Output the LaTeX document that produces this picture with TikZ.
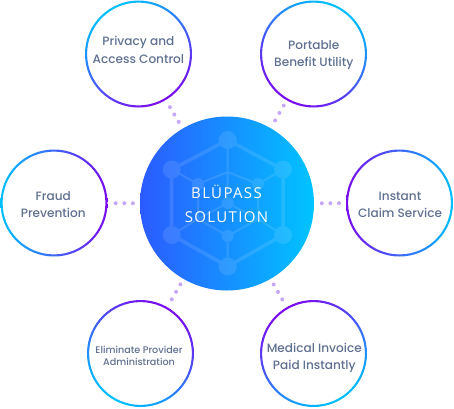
\documentclass[tikz,border=0pt]{standalone}
\usepackage{fontspec}
\usetikzlibrary{calc}
\newfontfamily\labelfont{Poppins Medium}
\newfontfamily\hubfont[LetterSpace=9]{Open Sans}
\definecolor{ringcyan}{HTML}{00C0FF}
\definecolor{ringpurple}{HTML}{7A0CEE}
\definecolor{hubleft}{HTML}{2C5AFF}
\definecolor{hubright}{HTML}{00C4FF}
\definecolor{dotcol}{HTML}{C6A8F6}
\definecolor{txtcol}{HTML}{5F7090}
\tikzset{
  ringnode/.style={circle,minimum size=107pt,inner sep=0pt,outer sep=0pt},
  lab/.style={font=\labelfont\fontsize{12.1}{17.3}\selectfont,text=txtcol,align=center,inner sep=0pt},
  smalllab/.style={font=\labelfont\fontsize{9.6}{12}\selectfont,text=txtcol,align=center,inner sep=0pt},
  hublab/.style={font=\hubfont\fontsize{15}{24}\selectfont,text=white,align=center,inner sep=0pt},
  dotlink/.style={draw=dotcol,line width=4pt,line cap=round,dash pattern=on 0pt off 8.6pt},
}
\newcommand{\gradring}[2]{%
  \shade[even odd rule,top color=ringcyan,bottom color=ringpurple,shading angle=#2]
    (#1) circle (53.5pt) (#1) circle (51.4pt);}
\newcommand{\dotsbetween}[3]{%
  \draw[dotlink] ($(#1)!#2pt!(hub)$) -- ($(#1)!#3pt!(hub)$);}
\begin{document}
\begin{tikzpicture}[x=1pt,y=-1pt]
\useasboundingbox (0,0) rectangle (454,408);
\node[ringnode] (priv) at (138.5,54) {};
\node[ringnode] (port) at (313.5,54) {};
\node[ringnode] (inst) at (399.5,203) {};
\node[ringnode] (frau) at (54,203) {};
\node[ringnode] (elim) at (140.5,353.5) {};
\node[ringnode] (medi) at (313.5,353.5) {};
\node[circle,minimum size=174pt,inner sep=0pt,outer sep=0pt] (hub) at (227,203.5) {};
% rings: cyan side given by the shading angle
\gradring{priv}{30}
\gradring{port}{-30}
\gradring{inst}{-90}
\gradring{frau}{90}
\gradring{elim}{150}
\gradring{medi}{-150}
% dotted connectors
\dotsbetween{priv}{61.7}{79.4}
\dotsbetween{port}{59.5}{77.3}
\dotsbetween{inst}{60.5}{77.9}
\dotsbetween{frau}{61.7}{79.0}
\dotsbetween{elim}{62.6}{80.0}
\dotsbetween{medi}{62.5}{80.0}
% hub
\shade[left color=hubleft,right color=hubright] (hub) circle (87pt);
% hexagon emblem
\coordinate (ht) at (227.7,140);
\coordinate (hul) at (171.7,169.5);
\coordinate (hur) at (283,169.5);
\coordinate (hll) at (171.7,235);
\coordinate (hlr) at (283,235);
\coordinate (hb) at (227.7,266.5);
\coordinate (hc) at (227.7,203);
\coordinate (hlo) at (227.7,236);
\coordinate (hup) at (227.7,172);
\coordinate (il) at (198,184);
\coordinate (ir) at (258,184);
\coordinate (jl) at (198,219);
\coordinate (jr) at (258,219);
\begin{scope}[transparency group,opacity=.11]
\draw[white,line width=3.5pt,line join=round] (ht)--(hur)--(hlr)--(hb)--(hll)--(hul)--cycle;
\draw[white,line width=2pt] (ht)--(hup) (hup)--(il) (hup)--(ir) (hup)--(hc)
  (hul)--(il) (hur)--(ir) (il)--(jl) (ir)--(jr)
  (hll)--(jl) (hlr)--(jr) (jl)--(hlo) (jr)--(hlo) (hlo)--(hb) (jl)--(hc) (jr)--(hc);
\fill[white] (ht) circle (9pt) (hul) circle (9pt) (hur) circle (9pt)
  (hll) circle (9pt) (hlr) circle (9pt) (hb) circle (9pt)
  (hc) circle (6pt) (hlo) circle (6pt) (il) circle (6pt) (ir) circle (6pt);
\end{scope}
\node[hublab] (hubt) at (226.5,203.5) {BLÜPASS\\SOLUTION};
% labels
\node[lab] (privt) at (138.4,50) {Privacy and\\Access Control};
\node[lab] (portt) at (313.8,55) {Portable\\Benefit Utility};
\node[lab] (instt) at (400,204.5) {Instant\\Claim Service};
\node[lab] (fraut) at (53.3,204.5) {Fraud\\Prevention};
\node[smalllab] (elimt) at (139,356) {Eliminate Provider\\Administration};
\node[lab] (medit) at (314.3,358) {Medical Invoice\\Paid Instantly};
\end{tikzpicture}
\end{document}
